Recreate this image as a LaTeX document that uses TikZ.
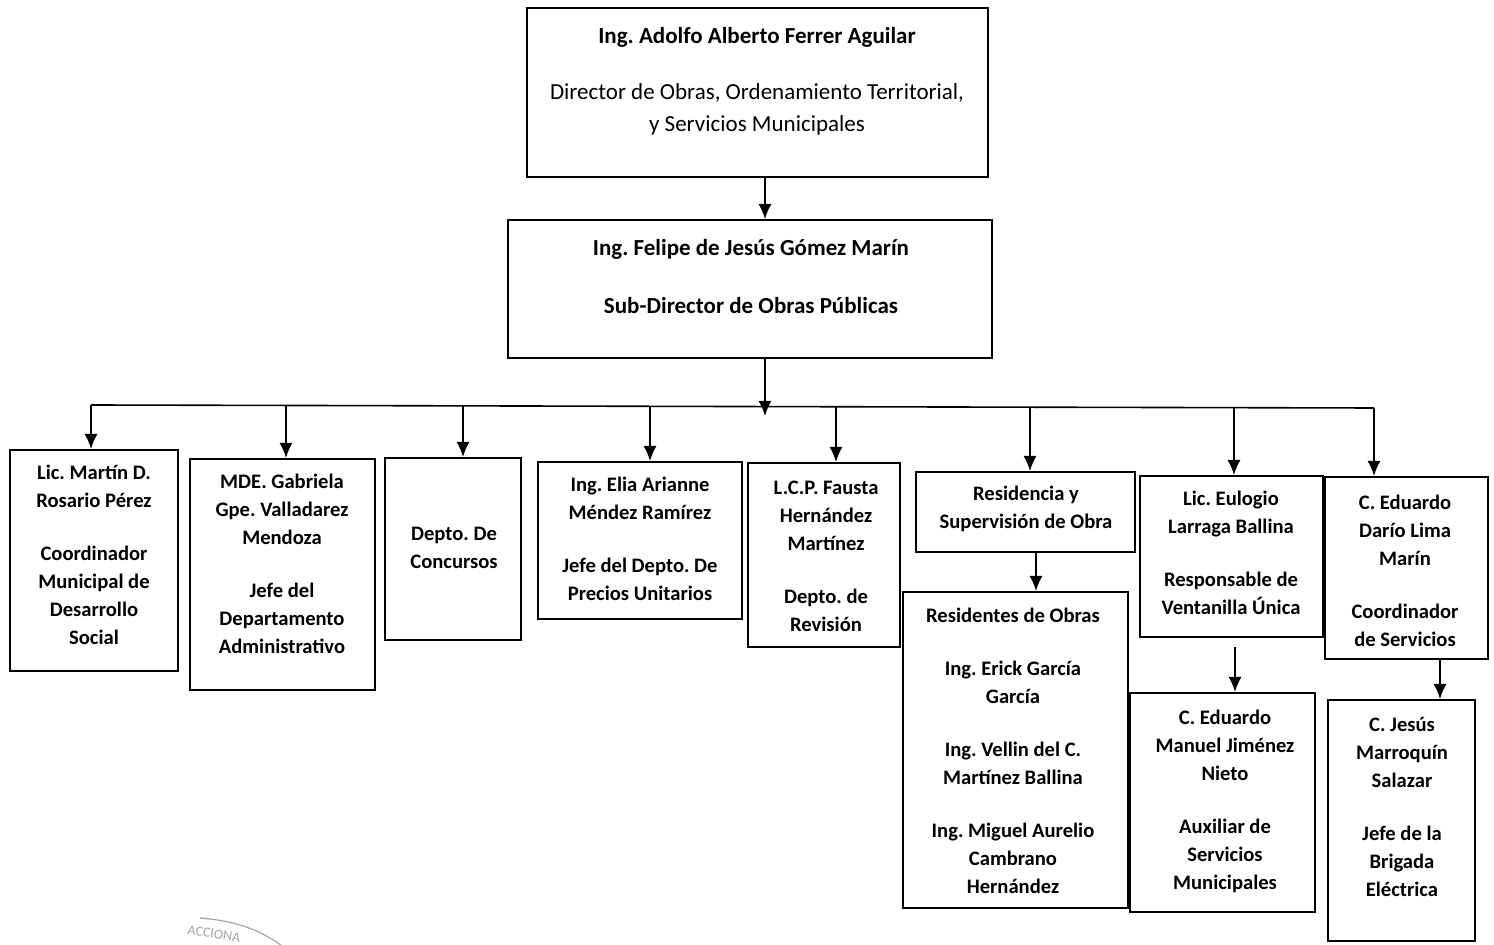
\documentclass[tikz,border=0pt]{standalone}
\usepackage{fontspec}
\setmainfont{Carlito}
\usetikzlibrary{arrows.meta,fit}
\frenchspacing
\begin{document}
\begin{tikzpicture}[x=0.5pt,y=-0.5pt,
  box/.style={draw,line width=1pt,inner sep=0pt},
  txt/.style={align=center,inner sep=0pt,font=\fontsize{10.3}{14}\selectfont\bfseries},
  bigtxt/.style={align=center,inner sep=0pt,font=\fontsize{11.5}{16}\selectfont},
  arr/.style={line width=0.8pt,-{Latex[length=7.5pt,width=6.5pt]}},
  ln/.style={line width=0.8pt}]
\useasboundingbox[fill=white] (0,0) rectangle (1494,945);

% top boxes
\node[box,fit={(527,8)(988,177)}] (top) {};
\node[bigtxt] (topt) at (757,81) {\textbf{Ing. Adolfo Alberto Ferrer Aguilar}\\[12pt]Director de Obras, Ordenamiento Territorial,\\y Servicios Municipales};
\node[box,fit={(508,220)(992,358)}] (sub) {};
\node[bigtxt,font=\fontsize{11.5}{16}\selectfont\bfseries] (subt) at (751,277) {Ing. Felipe de Jesús Gómez Marín\\[13pt]Sub-Director de Obras Públicas};

% second row
\node[box,fit={(10,450)(178,671)}] (A) {};
\node[txt] (At) at (94,555) {Lic. Martín D.\\Rosario Pérez\\[12.5pt]Coordinador\\Municipal de\\Desarrollo\\Social};
\node[box,fit={(190,459)(375,690)}] (B) {};
\node[txt] (Bt) at (282,564) {MDE. Gabriela\\Gpe. Valladarez\\Mendoza\\[12.5pt]Jefe del\\Departamento\\Administrativo};
\node[box,fit={(385,458)(521,640)}] (C) {};
\node[txt] (Ct) at (454,548) {Depto. De\\Concursos};
\node[box,fit={(538,462)(742,619)}] (D) {};
\node[txt] (Dt) at (640,539) {Ing. Elia Arianne\\Méndez Ramírez\\[12.5pt]Jefe del Depto. De\\Precios Unitarios};
\node[box,fit={(748,463)(900,647)}] (E) {};
\node[txt] (Et) at (826,556) {L.C.P. Fausta\\Hernández\\Martínez\\[12.5pt]Depto. de\\Revisión};
\node[box,fit={(916,472)(1135,552)}] (F) {};
\node[txt] (Ft) at (1026,509) {Residencia y\\Supervisión de Obra};
\node[box,fit={(1140,476)(1323,637)}] (G) {};
\node[txt] (Gt) at (1231,553) {Lic. Eulogio\\Larraga Ballina\\[12.5pt]Responsable de\\Ventanilla Única};
\node[box,fit={(1325,477)(1488,659)}] (H) {};
\node[txt] (Ht) at (1405,571) {C. Eduardo\\Darío Lima\\Marín\\[12.5pt]Coordinador\\de Servicios};

% third row
\node[box,fit={(903,592)(1128,908)}] (F2) {};
\node[txt] (F2t) at (1013,751) {Residentes de Obras\\[12.5pt]Ing. Erick García\\García\\[12.5pt]Ing. Vellin del C.\\Martínez Ballina\\[12.5pt]Ing. Miguel Aurelio\\Cambrano\\Hernández};
\node[box,fit={(1130,693)(1315,912)}] (G2) {};
\node[txt] (G2t) at (1225,801) {C. Eduardo\\Manuel Jiménez\\Nieto\\[12.5pt]Auxiliar de\\Servicios\\Municipales};
\node[box,fit={(1328,700)(1475,941)}] (H2) {};
\node[txt] (H2t) at (1402,807) {C. Jesús\\Marroquín\\Salazar\\[12.5pt]Jefe de la\\Brigada\\Eléctrica};

% connectors
\coordinate (tt) at (765,177);
\draw[arr] (tt) -- (tt |- sub.north);
\coordinate (busL) at (91,405);
\coordinate (busR) at (1374,408);
\coordinate (subtip) at (765,416);
\draw[ln] (busL) -- (busR);
\draw[arr] (sub.south -| subtip) -- (subtip);

\coordinate (dA) at (91,405);
\coordinate (dB) at (286,405);
\coordinate (dC) at (463,406);
\coordinate (dD) at (650,406);
\coordinate (dE) at (836,407);
\coordinate (dF) at (1030,407);
\coordinate (dG) at (1234,408);
\coordinate (dH) at (1374,408);
\draw[arr] (dA) -- (dA |- A.north);
\draw[arr] (dB) -- (dB |- B.north);
\draw[arr] (dC) -- (dC |- C.north);
\draw[arr] (dD) -- (dD |- D.north);
\draw[arr] (dE) -- (dE |- E.north);
\draw[arr] (dF) -- (dF |- F.north);
\draw[arr] (dG) -- (dG |- G.north);
\draw[arr] (dH) -- (dH |- H.north);

\coordinate (fF) at (1036,552);
\draw[arr] (fF) -- (fF |- F2.north);
\coordinate (gG) at (1235,647);
\draw[arr] (gG) -- (gG |- G2.north);
\coordinate (hH) at (1440,659);
\draw[arr] (hH) -- (hH |- H2.north);

% stamp fragment
\draw[line width=0.6pt,gray!70] (200,918) .. controls (238,921) and (262,931) .. (282,946);
\node[inner sep=0pt,gray!70,font=\fontsize{7}{7}\selectfont,rotate=-8] (stamp) at (214,934) {ACCIONA};
\end{tikzpicture}
\end{document}
